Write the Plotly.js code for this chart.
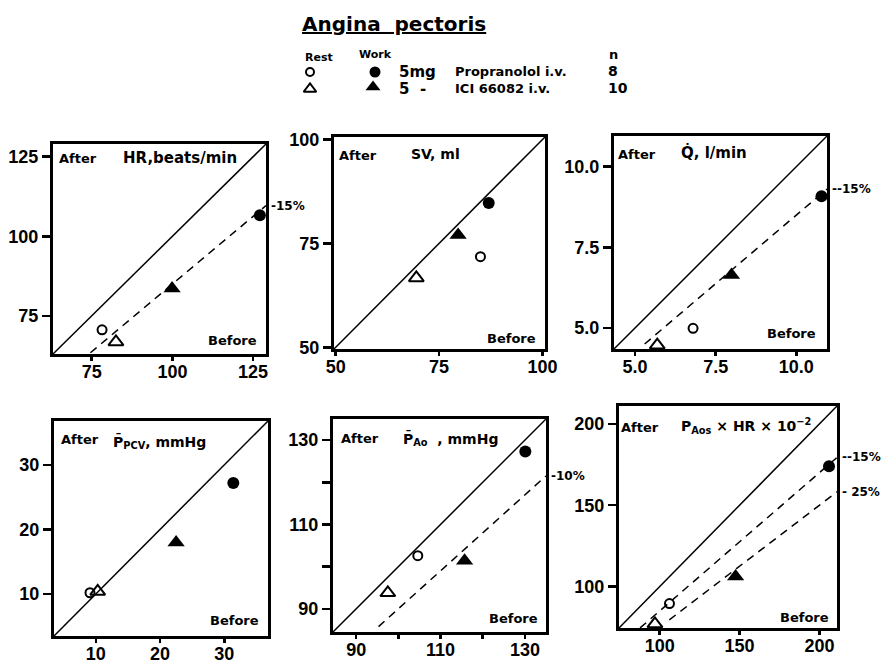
<!DOCTYPE html>
<html>
<head>
<meta charset="utf-8">
<script src="https://cdn.plot.ly/plotly-3.0.1.min.js"></script>
<style>
html,body{margin:0;padding:0;background:#fff;}
#chart{width:893px;height:661px;}
</style>
</head>
<body>
<div id="chart"></div>
<script>
// ---------------- DATA (Before = x, After = y) ----------------
const panelNames = ['HR, beats/min', 'SV, ml', 'Q, l/min', 'P PCV, mmHg', 'P Ao, mmHg', 'P Aos x HR x 10^-2'];
const restPropBefore = [78.2, 85.0, 6.80, 9.1, 104.6, 106.1];
const restPropAfter  = [70.6, 71.8, 4.99, 10.2, 102.6, 89.5];
const workPropBefore = [127.1, 87.0, 10.78, 31.4, 130.1, 206.0];
const workPropAfter  = [106.6, 84.7, 9.08, 27.2, 127.3, 174.0];
const restICIBefore  = [82.5, 69.5, 5.69, 10.3, 97.5, 97.0];
const restICIAfter   = [66.8, 66.7, 4.47, 10.4, 93.8, 77.0];
const workICIBefore  = [99.9, 79.6, 7.99, 22.5, 115.7, 147.5];
const workICIAfter   = [83.6, 77.0, 6.64, 18.0, 101.4, 106.2];
// reduction reference lines: panel index, reduction fraction, starting "Before" value
const refPanel     = [0, 2, 4, 5, 5];
const refReduction = [0.15, 0.15, 0.10, 0.15, 0.25];
const refStart     = [74.6, 5.3, 95.3, 87.7, 106.0];
const refLabels    = ['-15%', '--15%', '-10%', '--15%', '- 25%'];
// tick values / labels
const tickVals = [[75,100,125],[50,75,100],[5,7.5,10],[10,20,30],[90,100,110,120,130],[100,150,200]];
const tickText = [['75','100','125'],['50','75','100'],['5.0','7.5','10.0'],['10','20','30'],['90',' ','110',' ','130'],['100','150','200']];
const axisRange = [[63,129],[49.6,100.6],[4.35,10.95],[3.5,36.8],[84.5,135],[74.5,211]];
// legend table
const legendDose  = ['5mg', '5  -'];
const legendDrug  = ['Propranolol i.v.', 'ICI 66082 i.v.'];
const legendN     = ['8', '10'];

// ---------------- LAYOUT HELPERS ----------------
const W = 893, H = 661;
const px = x => x / W;
const py = y => 1 - y / H;
const FONT = 'Liberation Sans, Arial, sans-serif';
const LFONT = 'DejaVu Sans, sans-serif';

const boxL = [53, 334, 614, 54, 333, 619];
const boxR = [266, 545, 827, 268, 546, 837];
const boxT = [144, 137, 136, 421, 419, 406];
const boxB = [354, 349, 349, 636, 632, 628];

const titleTxt = ['HR,beats/min', 'SV, ml', 'Q\u0307, l/min',
  'P\u0304<sub>PCV</sub>, mmHg', 'P\u0304<sub>Ao</sub>  , mmHg',
  'P<sub>Aos</sub> \u00d7 HR \u00d7 10<sup>\u22122</sup>'];
const titleSize = [15, 14, 15, 14, 14, 14];
const titleX = [121, 409, 679, 111, 401, 679];
const titleY = [158, 154, 152, 441, 438, 426];
const afterX = [57, 337, 616, 59, 339, 619];
const afterY = [158, 156, 154, 440, 438, 427];
const beforeR = [259, 538, 818, 261, 540, 831];
const beforeY = [340, 338, 333, 620, 618, 617];

const traces = [];
const layout = {
  width: W, height: H,
  margin: {l: 0, r: 0, t: 0, b: 0},
  paper_bgcolor: '#fff', plot_bgcolor: 'rgba(0,0,0,0)',
  showlegend: false,
  font: {family: FONT, color: '#000', size: 14, weight: 'bold'},
  annotations: [],
  shapes: []
};

function sfx(i) { return i === 0 ? '' : String(i + 1); }

for (let i = 0; i < 6; i++) {
  const s = sfx(i);
  const xa = 'x' + s, ya = 'y' + s;
  const axCommon = {
    range: axisRange[i],
    showline: true, linewidth: 3, linecolor: '#000', mirror: true,
    ticks: 'outside', tickwidth: 2.5, tickcolor: '#000',
    showgrid: false, zeroline: false, fixedrange: true,
    tickvals: tickVals[i], ticktext: tickText[i],
    tickfont: {family: FONT, size: 18, color: '#000', weight: 'bold'}
  };
  layout['xaxis' + s] = Object.assign({}, axCommon, {
    domain: [px(boxL[i]), px(boxR[i])], anchor: ya, ticklen: 4, ticklabelstandoff: -5
  });
  layout['yaxis' + s] = Object.assign({}, axCommon, {
    domain: [py(boxB[i]), py(boxT[i])], anchor: xa, ticklen: 8
  });
  // identity line (corner to corner)
  layout.shapes.push({type: 'line', xref: xa + ' domain', yref: ya + ' domain',
    x0: 0, y0: 0, x1: 1, y1: 1, line: {color: '#000', width: 1.5}});

  const mk = (bx, by, sym, size, lw) => ({
    type: 'scatter', mode: 'markers', xaxis: xa, yaxis: ya,
    x: [bx[i]], y: [by[i]], cliponaxis: false,
    marker: {symbol: sym, size: size, color: '#000', line: {color: '#000', width: lw}}
  });
  traces.push(mk(restPropBefore, restPropAfter, 'circle-open', 9, 2));
  traces.push(mk(restICIBefore, restICIAfter, 'triangle-up-open', 13, 2));
  traces.push(mk(workICIBefore, workICIAfter, 'triangle-up', 15, 0));
  traces.push(mk(workPropBefore, workPropAfter, 'circle', 12, 0));

  // panel texts
  layout.annotations.push({xref: 'paper', yref: 'paper', x: px(afterX[i]), y: py(afterY[i]),
    xanchor: 'left', yanchor: 'middle', text: 'After', showarrow: false,
    font: {family: LFONT, size: 13, weight: 'bold'}});
  layout.annotations.push({xref: 'paper', yref: 'paper', x: px(titleX[i]), y: py(titleY[i]),
    xanchor: 'left', yanchor: 'middle', text: titleTxt[i], showarrow: false,
    font: {family: LFONT, size: titleSize[i], weight: 'bold'}});
  layout.annotations.push({xref: 'paper', yref: 'paper', x: px(beforeR[i]), y: py(beforeY[i]),
    xanchor: 'right', yanchor: 'middle', text: 'Before', showarrow: false,
    font: {family: LFONT, size: 13, weight: 'bold'}});
}

// reduction lines
for (let k = 0; k < refPanel.length; k++) {
  const i = refPanel[k], s = sfx(i);
  const xmax = axisRange[i][1];
  const f = 1 - refReduction[k];
  traces.push({type: 'scatter', mode: 'lines', xaxis: 'x' + s, yaxis: 'y' + s,
    x: [refStart[k], xmax], y: [refStart[k] * f, xmax * f],
    line: {color: '#000', width: 1.5, dash: '8px,6px'}});
  layout.annotations.push({xref: 'x' + s + ' domain', yref: 'y' + s,
    x: 1, y: xmax * f, xshift: 3, xanchor: 'left', yanchor: 'middle',
    text: refLabels[k], showarrow: false,
    font: {family: LFONT, size: 12, weight: 'bold'}});
}

// header legend symbols: invisible overlay axis covering only the legend block (pixel space)
layout.xaxis7 = {domain: [px(295), px(395)], range: [295, 395], visible: false, fixedrange: true, anchor: 'y7'};
layout.yaxis7 = {domain: [py(100), py(62)], range: [100, 62], visible: false, fixedrange: true, anchor: 'x7'};
const legSymX = [310, 375, 310, 373];
const legSymY = [72, 72, 89, 87];
const legSym = ['circle-open', 'circle', 'triangle-up-open', 'triangle-up'];
const legSize = [8, 11, 11, 13];
const legLine = [2, 0, 2, 0];
traces.push({type: 'scatter', mode: 'markers', xaxis: 'x7', yaxis: 'y7', cliponaxis: false,
  x: legSymX, y: legSymY,
  marker: {symbol: legSym, size: legSize, color: '#000', opacity: 1,
           line: {color: '#000', width: legLine}}});

const A = (text, x, y, size, anchor, fam) => layout.annotations.push({
  xref: 'paper', yref: 'paper', x: px(x), y: py(y), xanchor: anchor || 'left', yanchor: 'middle',
  text: text, showarrow: false, font: {family: fam || LFONT, size: size, weight: 'bold'}});
A('<u>Angina  pectoris</u>', 394, 24, 20, 'center');
A('Rest', 303, 58, 11);
A('Work', 357, 54, 11);
A('n', 607, 54, 13);
for (let r = 0; r < 2; r++) {
  const yy = r === 0 ? 72 : 89;
  A(legendDose[r], 397, yy, 15);
  A(legendDrug[r], 453, yy, 13);
  A(legendN[r], 606, yy - 1, 14);
}

Plotly.newPlot('chart', traces, layout, {staticPlot: true, displayModeBar: false});
</script>
</body>
</html>
